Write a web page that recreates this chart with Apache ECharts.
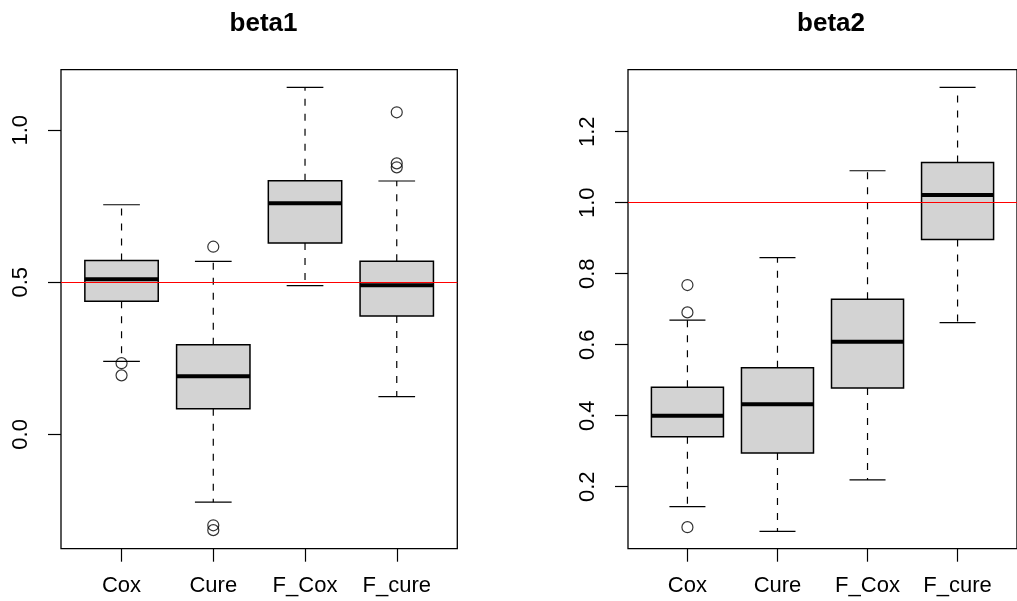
<!DOCTYPE html>
<html>
<head>
<meta charset="utf-8">
<script src="https://cdn.jsdelivr.net/npm/echarts@6/dist/echarts.min.js"></script>
<style>
html,body{margin:0;padding:0;background:#fff;}
#chart{width:1017px;height:601px;}
</style>
</head>
<body>
<div id="chart"></div>
<script>
const categories = ['Cox', 'Cure', 'F_Cox', 'F_cure'];
const positions = [1, 2, 3, 4];

const beta1Low    = [0.240, -0.223, 0.489, 0.124];
const beta1Q1     = [0.438, 0.084, 0.629, 0.389];
const beta1Median = [0.510, 0.191, 0.760, 0.490];
const beta1Q3     = [0.572, 0.295, 0.834, 0.569];
const beta1High   = [0.755, 0.569, 1.141, 0.833];
const beta1OutlierGroup = [1, 1, 2, 2, 2, 4, 4, 4];
const beta1OutlierValue = [0.234, 0.194, 0.617, -0.299, -0.315, 1.059, 0.891, 0.878];
const beta1Ticks = [0.0, 0.5, 1.0];
const beta1Ref = 0.5;

const beta2Low    = [0.144, 0.074, 0.219, 0.662];
const beta2Q1     = [0.341, 0.295, 0.478, 0.896];
const beta2Median = [0.400, 0.432, 0.608, 1.022];
const beta2Q3     = [0.480, 0.535, 0.728, 1.113];
const beta2High   = [0.669, 0.845, 1.090, 1.325];
const beta2OutlierGroup = [1, 1, 1];
const beta2OutlierValue = [0.691, 0.768, 0.086];
const beta2Ticks = [0.2, 0.4, 0.6, 0.8, 1.0, 1.2];
const beta2Ref = 1.0;

const FONT = '"Liberation Sans", Arial, Helvetica, sans-serif';

function boxData(lo, q1, med, q3, hi) {
  return positions.map((p, i) => [p, lo[i], q1[i], med[i], q3[i], hi[i]]);
}
function outlierData(g, v) {
  return g.map((x, i) => [x, v[i]]);
}

function renderBox(params, api) {
  const x = api.value(0), lo = api.value(1), q1 = api.value(2),
        med = api.value(3), q3 = api.value(4), hi = api.value(5);
  const c = (a, b) => api.coord([a, b]);
  const bl = c(x - 0.4, q1), tr = c(x + 0.4, q3);
  const dash = {stroke: '#000', lineWidth: 1.2, lineDash: [7, 8]};
  const solid = {stroke: '#000', lineWidth: 1.2};
  const line = (p1, p2, style) => ({type: 'line', shape: {x1: p1[0], y1: p1[1], x2: p2[0], y2: p2[1]}, style: style});
  return {
    type: 'group',
    children: [
      line(c(x, q3), c(x, hi), dash),
      line(c(x, q1), c(x, lo), dash),
      line(c(x - 0.2, hi), c(x + 0.2, hi), solid),
      line(c(x - 0.2, lo), c(x + 0.2, lo), solid),
      {type: 'rect', shape: {x: bl[0], y: tr[1], width: tr[0] - bl[0], height: bl[1] - tr[1]},
       style: {fill: '#D3D3D3', stroke: '#000', lineWidth: 1.5}},
      line(c(x - 0.4, med), c(x + 0.4, med), {stroke: '#000', lineWidth: 4})
    ]
  };
}

function xAxisFor(gridIndex) {
  return {
    type: 'value', gridIndex: gridIndex, min: 0.34, max: 4.66, position: 'bottom',
    splitLine: {show: false},
    axisLine: {show: false, onZero: false},
    axisTick: {show: true, inside: false, length: 13, customValues: positions, lineStyle: {color: '#000', width: 1.2}},
    axisLabel: {show: true, customValues: positions, margin: 26, color: '#000', fontSize: 22, fontFamily: FONT,
      formatter: v => categories[Math.round(v) - 1] || ''}
  };
}
function yAxisFor(gridIndex, min, max, ticks) {
  return {
    type: 'value', gridIndex: gridIndex, min: min, max: max, position: 'left',
    splitLine: {show: false},
    axisLine: {show: false, onZero: false},
    axisTick: {show: true, inside: false, length: 13, customValues: ticks, lineStyle: {color: '#000', width: 1.2}},
    axisLabel: {show: true, customValues: ticks, rotate: 90, margin: 29, color: '#000', fontSize: 22, fontFamily: FONT,
      formatter: v => Number(v).toFixed(1)}
  };
}

const chart = echarts.init(document.getElementById('chart'), null, {renderer: 'canvas'});
chart.setOption({
  animation: false,
  backgroundColor: '#fff',
  title: [
    {text: 'beta1', left: 258.5, top: 6, textAlign: 'center',
     textStyle: {fontSize: 26, fontWeight: 'bold', fontFamily: FONT, color: '#000'}},
    {text: 'beta2', left: 826, top: 6, textAlign: 'center',
     textStyle: {fontSize: 26, fontWeight: 'bold', fontFamily: FONT, color: '#000'}}
  ],
  grid: [
    {left: 61, top: 69.7, width: 396.3, height: 479, show: true, borderColor: '#000', borderWidth: 1.3, backgroundColor: 'transparent', containLabel: false},
    {left: 628, top: 69.7, width: 396.3, height: 479, show: true, borderColor: '#000', borderWidth: 1.3, backgroundColor: 'transparent', containLabel: false}
  ],
  xAxis: [xAxisFor(0), xAxisFor(1)],
  yAxis: [yAxisFor(0, -0.376, 1.199, beta1Ticks), yAxisFor(1, 0.0254, 1.3746, beta2Ticks)],
  series: [
    {type: 'custom', xAxisIndex: 0, yAxisIndex: 0, renderItem: renderBox,
     data: boxData(beta1Low, beta1Q1, beta1Median, beta1Q3, beta1High), z: 2, silent: true},
    {type: 'scatter', xAxisIndex: 0, yAxisIndex: 0, symbol: 'circle', symbolSize: 11,
     itemStyle: {color: 'rgba(0,0,0,0)', borderColor: '#000', borderWidth: 1.2},
     data: outlierData(beta1OutlierGroup, beta1OutlierValue), z: 3, silent: true,
     markLine: {silent: true, symbol: 'none', label: {show: false}, lineStyle: {color: '#FF0000', width: 1.2, type: 'solid'},
       data: [{yAxis: beta1Ref}]}},
    {type: 'custom', xAxisIndex: 1, yAxisIndex: 1, renderItem: renderBox,
     data: boxData(beta2Low, beta2Q1, beta2Median, beta2Q3, beta2High), z: 2, silent: true},
    {type: 'scatter', xAxisIndex: 1, yAxisIndex: 1, symbol: 'circle', symbolSize: 11,
     itemStyle: {color: 'rgba(0,0,0,0)', borderColor: '#000', borderWidth: 1.2},
     data: outlierData(beta2OutlierGroup, beta2OutlierValue), z: 3, silent: true,
     markLine: {silent: true, symbol: 'none', label: {show: false}, lineStyle: {color: '#FF0000', width: 1.2, type: 'solid'},
       data: [{yAxis: beta2Ref}]}}
  ]
});
</script>
</body>
</html>
